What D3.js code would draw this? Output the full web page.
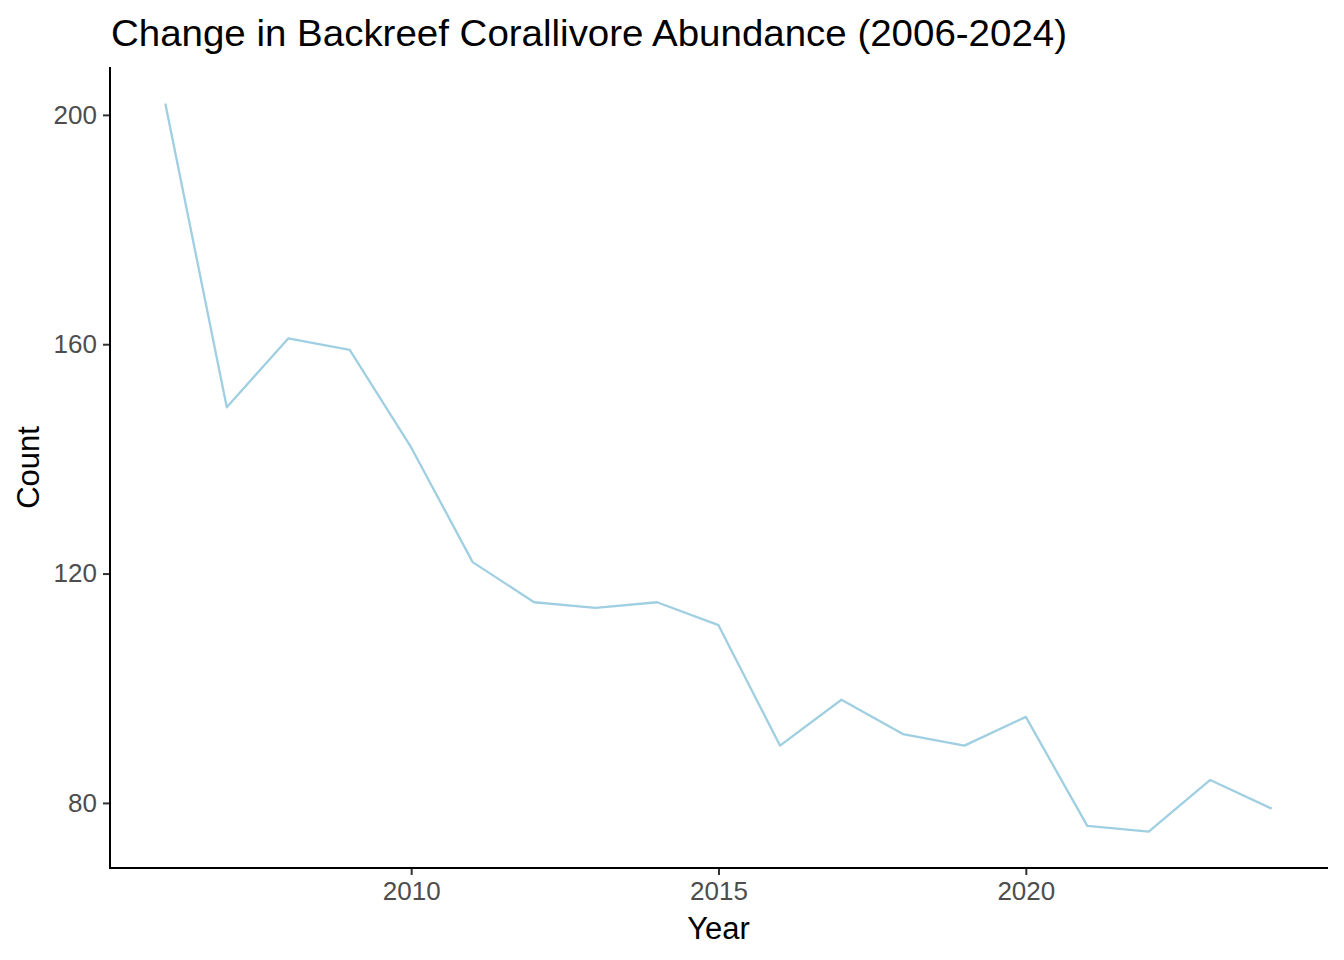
<!DOCTYPE html>
<html>
<head>
<meta charset="utf-8">
<script src="https://cdn.jsdelivr.net/npm/d3@7"></script>
<style>
  body { margin: 0; background: #fff; }
  svg { display: block; font-family: "Liberation Sans", Arial, Helvetica, sans-serif; }
</style>
</head>
<body>
<svg id="chart" width="1344" height="960"></svg>
<script>
const years = [2006, 2007, 2008, 2009, 2010, 2011, 2012, 2013, 2014, 2015, 2016, 2017, 2018, 2019, 2020, 2021, 2022, 2023, 2024];
const counts = [202, 149, 161, 159, 142, 122, 115, 114, 115, 111, 90, 98, 92, 90, 95, 76, 75, 84, 79];
const xTicks = [2010, 2015, 2020];
const yTicks = [80, 120, 160, 200];
const titleText = "Change in Backreef Corallivore Abundance (2006-2024)";
const xLabel = "Year";
const yLabel = "Count";

(function () {
const data = years.map((yr, i) => ({ year: yr, count: counts[i] }));

const svg = d3.select("#chart");
const pL = 110, pR = 1327, pT = 67, pB = 868;

const xMin = d3.min(years), xMax = d3.max(years);
const xPad = (xMax - xMin) * 0.05;
const yMin = d3.min(counts), yMax = d3.max(counts);
const yPad = (yMax - yMin) * 0.05;

const x = d3.scaleLinear().domain([xMin - xPad, xMax + xPad]).range([pL, pR]);
const y = d3.scaleLinear().domain([yMin - yPad, yMax + yPad]).range([pB, pT]);

// line
svg.append("path")
  .datum(data)
  .attr("fill", "none")
  .attr("stroke", "#9fcfe1")
  .attr("stroke-width", 2.3)
  .attr("stroke-linejoin", "round")
  .attr("d", d3.line().x(d => x(d.year)).y(d => y(d.count)));

// axes
const xAxis = svg.append("g")
  .attr("transform", `translate(0,${pB})`)
  .call(d3.axisBottom(x).tickValues(xTicks).tickFormat(d3.format("d")).tickSize(7).tickPadding(4));
const yAxis = svg.append("g")
  .attr("transform", `translate(${pL},0)`)
  .call(d3.axisLeft(y).tickValues(yTicks).tickFormat(d3.format("d")).tickSize(7).tickPadding(6));

[xAxis, yAxis].forEach(g => {
  g.select(".domain").remove();
  g.selectAll(".tick line").attr("stroke", "#333333").attr("stroke-width", 2);
  g.selectAll(".tick text").attr("fill", "#4d4d4d").style("font-size", "26px")
    .style("font-family", "'Liberation Sans', Arial, Helvetica, sans-serif");
});
xAxis.selectAll(".tick text").attr("dy", "0.8em");

// axis lines
svg.append("line").attr("x1", pL).attr("x2", pL).attr("y1", pT).attr("y2", pB + 1)
  .attr("stroke", "#000").attr("stroke-width", 2);
svg.append("line").attr("x1", pL - 1).attr("x2", pR + 1).attr("y1", pB).attr("y2", pB)
  .attr("stroke", "#000").attr("stroke-width", 2);

// titles
svg.append("text").attr("x", 111).attr("y", 46)
  .style("font-size", "37px").attr("fill", "#000")
  .attr("textLength", 956).attr("lengthAdjust", "spacingAndGlyphs")
  .text(titleText);
svg.append("text").attr("x", (pL + pR) / 2).attr("y", 939)
  .attr("text-anchor", "middle").style("font-size", "31px").attr("fill", "#000").text(xLabel);
svg.append("text")
  .attr("transform", `translate(39,${(pT + pB) / 2}) rotate(-90)`)
  .attr("text-anchor", "middle").style("font-size", "31px").attr("fill", "#000").text(yLabel);
})();
</script>
</body>
</html>
